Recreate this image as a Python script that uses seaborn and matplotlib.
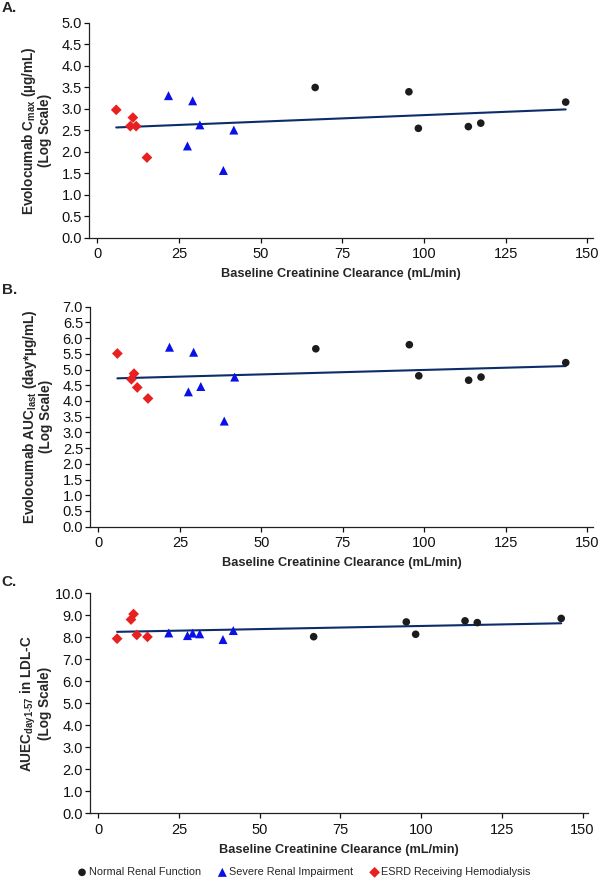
import matplotlib
matplotlib.use("Agg")
import matplotlib.pyplot as plt
import numpy as np
import pandas as pd
import seaborn as sns

# baseline creatinine clearance (mL/min) per group, same subjects in all panels
normal_x = [66.7, 95.4, 98.3, 113.6, 117.4, 143.4]
severe_x = [21.8, 29.2, 27.6, 31.4, 38.6, 41.8]
esrd_x = [5.8, 10.1, 10.9, 11.9, 15.2]

# A. Cmax
cmax_normal = [3.50, 3.40, 2.55, 2.59, 2.67, 3.16]
cmax_severe = [3.31, 3.19, 2.14, 2.63, 1.57, 2.51]
cmax_esrd = [2.98, 2.60, 2.80, 2.60, 1.87]

# B. AUClast
auc_normal = [5.66, 5.79, 4.80, 4.66, 4.76, 5.22]
auc_severe = [5.71, 5.55, 4.29, 4.46, 3.36, 4.76]
auc_esrd = [5.51, 4.69, 4.87, 4.43, 4.08]

# C. AUEC day1-57 LDL-C
auec_normal = [8.03, 8.70, 8.14, 8.75, 8.67, 8.86]
auec_severe = [8.20, 8.19, 8.08, 8.16, 7.90, 8.31]
auec_esrd = [7.94, 8.81, 9.06, 8.11, 8.02]

# fitted regression lines (end points)
fit_x = [5.8, 143.4]
fit_cmax = [2.57, 2.99]
fit_auc = [4.72, 5.11]
fit_auec = [8.25, 8.64]

groups = ["Normal Renal Function", "Severe Renal Impairment", "ESRD Receiving Hemodialysis"]
palette = {groups[0]: "#1c1c1c", groups[1]: "#0a10e8", groups[2]: "#e8201f"}
markers = {groups[0]: "o", groups[1]: "^", groups[2]: "D"}
sizes = {groups[0]: 30, groups[1]: 42, groups[2]: 30}


def make_df(yn, ys, ye):
    return pd.DataFrame({
        "crcl": normal_x + severe_x + esrd_x,
        "value": yn + ys + ye,
        "group": [groups[0]] * len(yn) + [groups[1]] * len(ys) + [groups[2]] * len(ye),
    })


panels = [
    ("A.", 8, make_df(cmax_normal, cmax_severe, cmax_esrd), fit_cmax, 5.0, 0.5, 7,
     "Evolocumab C$_{\\mathregular{max}}$ (µg/mL)\n(Log Scale)", [0.148, 0.7299, 0.840, 0.244]),
    ("B.", 290, make_df(auc_normal, auc_severe, auc_esrd), fit_auc, 7.0, 0.5, 7,
     "Evolocumab AUC$_{\\mathregular{last}}$ (day*µg/mL)\n(Log Scale)", [0.150, 0.4022, 0.838, 0.2497]),
    ("C.", 582, make_df(auec_normal, auec_severe, auec_esrd), fit_auec, 10.0, 1.0, 2,
     "AUEC$_{\\mathregular{day1\\text{-}57}}$ in LDL-C\n(Log Scale)", [0.150, 0.0768, 0.830, 0.2497]),
]

sns.set_theme(style="ticks")
plt.rcParams["font.family"] = ["Liberation Sans", "DejaVu Sans"]
plt.rcParams["mathtext.fontset"] = "custom"
plt.rcParams["mathtext.rm"] = "Liberation Sans"
plt.rcParams["mathtext.it"] = "Liberation Sans:italic"
plt.rcParams["mathtext.bf"] = "Liberation Sans:bold"

fig = plt.figure(figsize=(6.0, 8.81), dpi=100)

handles = None
for letter, letter_y, df, fit_y, ymax, ystep, ypad, ylabel, rect in panels:
    ax = fig.add_axes(rect)
    sns.lineplot(x=fit_x, y=fit_y, color="#0d2c6a", lw=1.5, ax=ax)
    for g in groups:
        sub = df[df["group"] == g]
        sns.scatterplot(data=sub, x="crcl", y="value", color=palette[g], marker=markers[g],
                        s=sizes[g], edgecolor="none", label=g, ax=ax, zorder=3)
    if handles is None:
        handles, labels = ax.get_legend_handles_labels()
    ax.get_legend().remove()

    ax.set_xlim(-2.6, 151.7)
    ax.set_ylim(0, ymax)
    ax.set_xticks(np.arange(0, 151, 25))
    ax.set_yticks(np.arange(0, ymax + 0.01, ystep))
    ax.yaxis.set_major_formatter(matplotlib.ticker.FormatStrFormatter("%.1f"))
    ax.tick_params(direction="out", length=3.8, width=0.9, labelsize=10.5, colors="#111111")
    ax.tick_params(axis="x", pad=3)
    ax.tick_params(axis="y", pad=1.2)
    for sp in ["left", "bottom"]:
        ax.spines[sp].set_linewidth(0.9)
        ax.spines[sp].set_color("#222222")
    sns.despine(ax=ax)
    ax.set_xlabel("Baseline Creatinine Clearance (mL/min)", fontsize=9.2, fontweight="bold", labelpad=5)
    ax.set_ylabel(ylabel, fontsize=9.8, fontweight="bold", labelpad=ypad, linespacing=1.0)
    fig.text(0.003, 1 - letter_y / 881, letter, fontsize=11, fontweight="bold", va="center")

fig.legend(handles, [h.get_label() for h in handles], loc="center", bbox_to_anchor=(0.505, 0.01),
           ncol=3, frameon=False, fontsize=7.8, handletextpad=0.0, columnspacing=1.4,
           handlelength=1.2, borderpad=0.2)

fig.savefig("out.png", dpi=100)
